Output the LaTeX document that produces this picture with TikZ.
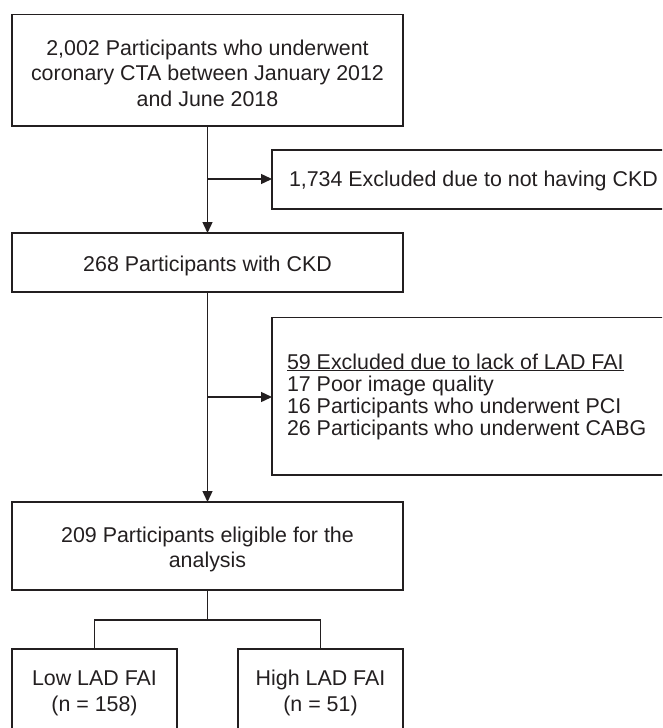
\documentclass[tikz,border=0pt]{standalone}
\usepackage{fontspec}
\setmainfont{Liberation Sans}
\usetikzlibrary{arrows.meta}
\definecolor{ink}{HTML}{231F20}
\begin{document}
\begin{tikzpicture}[x=1pt,y=-1pt,
  box/.style={draw=ink,line width=1.4pt,inner sep=0pt,outer sep=0pt,rectangle},
  txt/.style={inner sep=0pt,outer sep=0pt,text=ink,font=\fontsize{21.4}{25.7}\selectfont},
  link/.style={draw=ink,line width=1.4pt},
  arr/.style={link,-{Triangle[length=11pt,width=10pt]}}]
\useasboundingbox (0,0) rectangle (662,728);
\clip (0,0) rectangle (662,728);
% boxes
\node[box,minimum width=391pt,minimum height=111.3pt] (b1) at (207.5,70.35) {};
\node[box,minimum width=398pt,minimum height=59pt] (b2) at (471,179.5) {};
\node[box,minimum width=391pt,minimum height=59pt] (b3) at (207.5,262.5) {};
\node[box,minimum width=398pt,minimum height=157.5pt] (b4) at (471,396.25) {};
\node[box,minimum width=391pt,minimum height=88pt] (b5) at (207.5,546) {};
\node[box,minimum width=165pt,minimum height=91pt] (b6) at (94.5,694.5) {};
\node[box,minimum width=165pt,minimum height=91pt] (b7) at (320.5,694.5) {};
% texts
\node[txt,anchor=base] (t1a) at (207.5,55) {2,002 Participants who underwent};
\node[txt,anchor=base] (t1b) at (207.5,80.7) {coronary CTA between January 2012};
\node[txt,anchor=base] (t1c) at (207.5,106.4) {and June 2018};
\node[txt,anchor=base west] (t2) at (289,186.5) {1,734 Excluded due to not having CKD};
\node[txt,anchor=base] (t3) at (207.5,271) {268 Participants with CKD};
\node[txt,anchor=base west] (t4a) at (287,369) {\underline{59 Excluded due to lack of LAD FAI}};
\node[txt,anchor=base west] (t4b) at (287,391) {17 Poor image quality};
\node[txt,anchor=base west] (t4c) at (287,413) {16 Participants who underwent PCI};
\node[txt,anchor=base west] (t4d) at (287,435) {26 Participants who underwent CABG};
\node[txt,anchor=base] (t5a) at (207.5,542) {209 Participants eligible for the};
\node[txt,anchor=base] (t5b) at (207.5,567.7) {analysis};
\node[txt,anchor=base] (t6a) at (94.5,685.5) {Low LAD FAI};
\node[txt,anchor=base] (t6b) at (94.5,711) {(n = 158)};
\node[txt,anchor=base] (t7a) at (320.5,685.5) {High LAD FAI};
\node[txt,anchor=base] (t7b) at (320.5,711) {(n = 51)};
% connectors
\coordinate (j1) at (207.5,179);
\coordinate (j2) at (207.5,397);
\coordinate (j3) at (207.5,620);
\draw[arr] (b1.south) -- (b3.north);
\draw[arr] (j1) -- (b2.west |- j1);
\draw[arr] (b3.south) -- (b5.north);
\draw[arr] (j2) -- (b4.west |- j2);
\draw[link] (b5.south) -- (j3);
\draw[link] (b6.north) -- (b6.north |- j3) -- (b7.north |- j3) -- (b7.north);
\end{tikzpicture}
\end{document}
